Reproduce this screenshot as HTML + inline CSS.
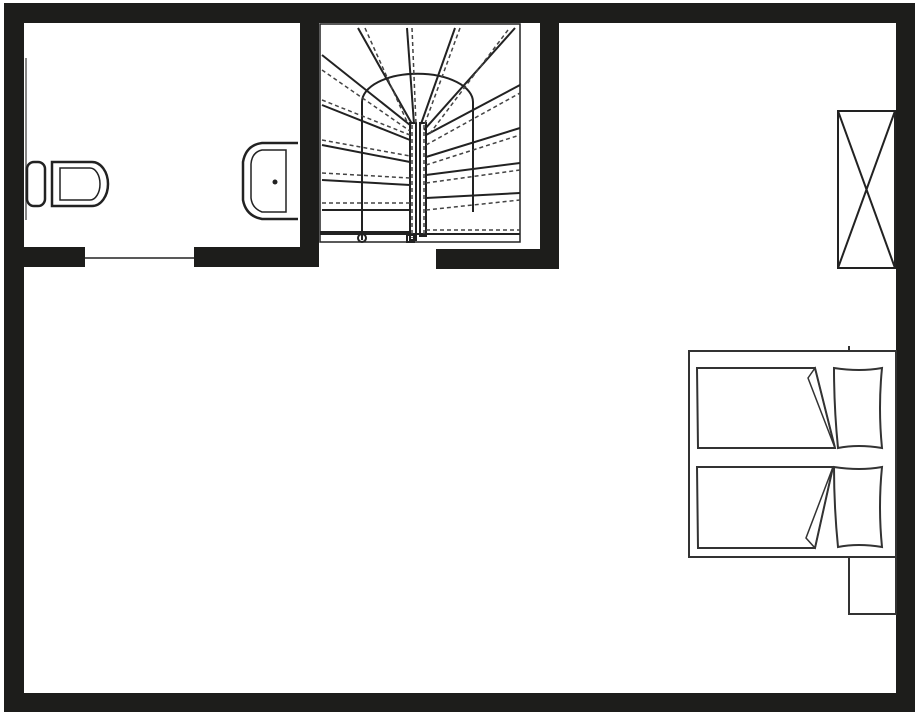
<!DOCTYPE html>
<html><head><style>html,body{margin:0;padding:0;background:#fff}svg{display:block}</style></head><body>
<svg width="917" height="716" viewBox="0 0 917 716" xmlns="http://www.w3.org/2000/svg">
<g fill="#1d1d1b">
<rect x="4" y="3" width="911" height="20"/>
<rect x="4" y="3" width="20" height="709"/>
<rect x="896" y="3" width="19" height="709"/>
<rect x="4" y="693" width="911" height="19"/>
<rect x="300" y="3" width="19" height="264"/>
<rect x="24" y="247" width="61" height="20"/>
<rect x="194" y="247" width="125" height="20"/>
<rect x="540" y="3" width="19" height="266"/>
<rect x="436" y="249" width="123" height="20"/>
</g>
<line x1="85" y1="258" x2="194" y2="258" stroke="#222" stroke-width="1.5"/>
<line x1="26" y1="58" x2="26" y2="220" stroke="#888" stroke-width="2"/>
<g fill="none" stroke="#222" stroke-width="2.5">
<rect x="27" y="162" width="18" height="44" rx="7"/>
<path d="M52 162 H92 A16 22 0 0 1 92 206 H52 Z"/>
<path d="M60 168 H90 A10 16 0 0 1 90 200 H60 Z" stroke-width="1.5"/>
<path d="M298 143 H262 Q246 145 243 162 V200 Q246 216 262 219 H298"/>
<path d="M286 150 V212 H262 Q252 208 251 198 V164 Q252 152 262 150 Z" stroke-width="1.5"/>
</g>
<circle cx="275" cy="182" r="2.5" fill="#222"/>
<g fill="none" stroke="#222" stroke-width="2">
<rect x="320" y="24" width="200" height="218" stroke-width="1.5"/>
<line x1="320" y1="234" x2="520" y2="234"/>
<line x1="320" y1="232" x2="410" y2="232"/>
<path d="M362 240 V102 A55 28 0 0 1 473 102 V212"/>
<rect x="410" y="123" width="6" height="117"/>
<rect x="420" y="123" width="6" height="113"/>
<line x1="358" y1="28" x2="412" y2="124"/>
<line x1="407" y1="28" x2="414" y2="124"/>
<line x1="455" y1="28" x2="421" y2="124"/>
<line x1="515" y1="28" x2="424" y2="130"/>
<line x1="322" y1="55" x2="410" y2="125"/>
<line x1="322" y1="105" x2="410" y2="140"/>
<line x1="322" y1="145" x2="410" y2="162"/>
<line x1="322" y1="180" x2="410" y2="185"/>
<line x1="322" y1="210" x2="410" y2="210"/>
<line x1="426" y1="135" x2="520" y2="85"/>
<line x1="426" y1="157" x2="520" y2="128"/>
<line x1="426" y1="175" x2="520" y2="163"/>
<line x1="426" y1="198" x2="520" y2="193"/>
<circle cx="362" cy="238" r="4"/>
<rect x="407" y="235" width="7" height="7"/>
</g>
<g fill="none" stroke="#444" stroke-width="1.5" stroke-dasharray="4 3">
<line x1="365" y1="28" x2="408" y2="124"/>
<line x1="412" y1="28" x2="416" y2="124"/>
<line x1="460" y1="28" x2="424" y2="126"/>
<line x1="508" y1="30" x2="428" y2="136"/>
<line x1="322" y1="70" x2="410" y2="131"/>
<line x1="322" y1="100" x2="410" y2="135"/>
<line x1="322" y1="140" x2="410" y2="156"/>
<line x1="322" y1="173" x2="410" y2="178"/>
<line x1="322" y1="203" x2="410" y2="203"/>
<line x1="426" y1="145" x2="520" y2="93"/>
<line x1="426" y1="165" x2="520" y2="135"/>
<line x1="426" y1="183" x2="520" y2="170"/>
<line x1="426" y1="210" x2="520" y2="200"/>
<line x1="426" y1="230" x2="520" y2="230"/>
<line x1="412" y1="125" x2="412" y2="238"/>
<line x1="424" y1="125" x2="424" y2="236"/>
</g>
<g fill="none" stroke="#222" stroke-width="2">
<rect x="838" y="111" width="57" height="157"/>
<line x1="838" y1="111" x2="895" y2="268"/>
<line x1="895" y1="111" x2="838" y2="268"/>
</g>
<g fill="none" stroke="#333" stroke-width="2">
<rect x="689" y="351" width="207" height="206"/>
<rect x="849" y="557" width="47" height="57"/>
<path d="M697 368 H815 L835 448 H698 Z"/>
<path d="M697 467 H833 L815 548 H698 Z"/>
<path d="M808 378 L815 368 L835 448 Z" stroke-width="1.5"/>
<path d="M806 538 L815 548 L833 467 Z" stroke-width="1.5"/>
<path d="M834 368 Q860 372 882 368 Q878 408 882 448 Q858 444 838 448 Q834 408 834 368 Z"/>
<path d="M834 467 Q860 471 882 467 Q878 507 882 547 Q858 543 838 547 Q834 507 834 467 Z"/>
</g>
<line x1="849" y1="346" x2="849" y2="351" stroke="#333" stroke-width="2"/>
</svg>
</body></html>
